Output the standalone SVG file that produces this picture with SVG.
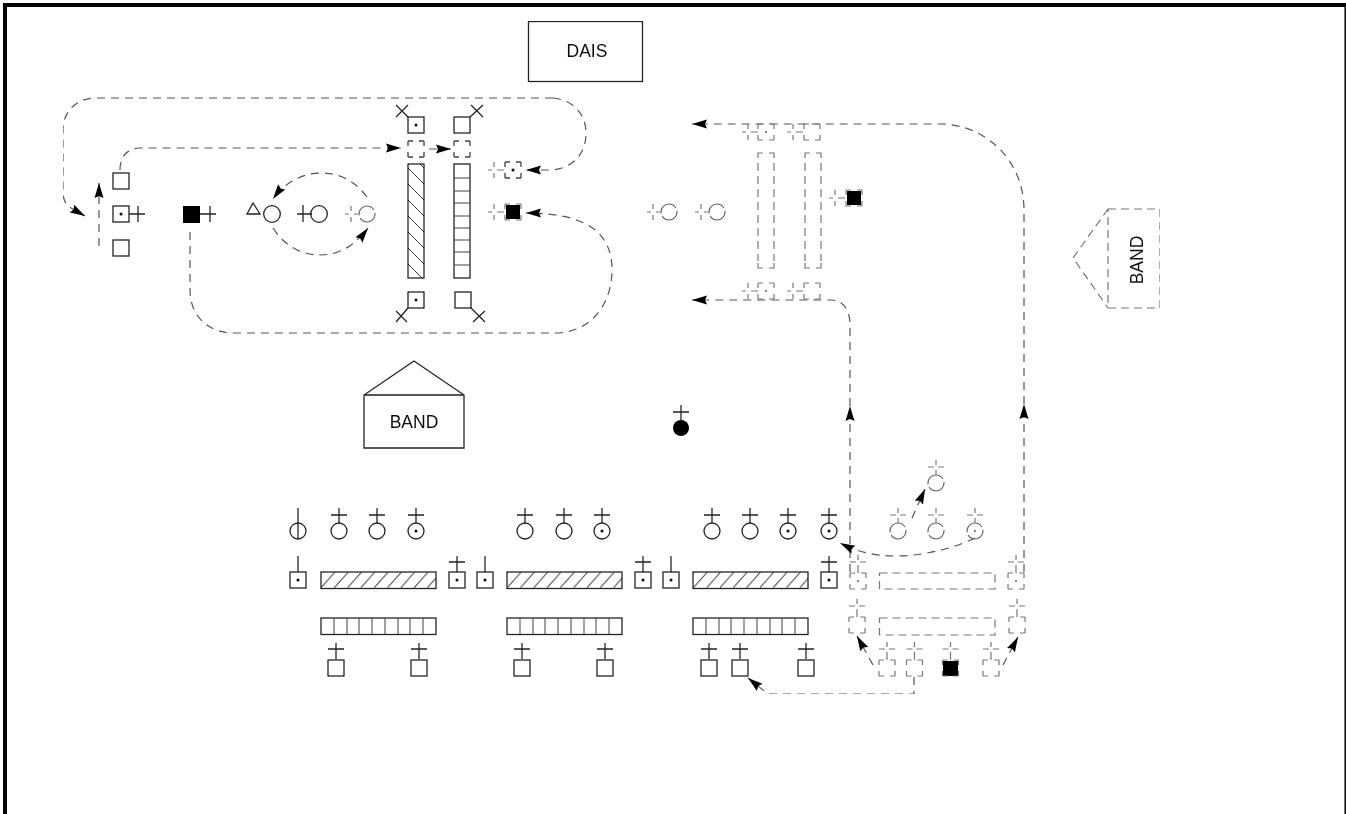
<svg xmlns="http://www.w3.org/2000/svg" width="1346" height="814" viewBox="0 0 1346 814">
<style>
.s{fill:none;stroke:#222;stroke-width:1.3}
.d{fill:none;stroke:#555;stroke-width:1.2;stroke-dasharray:8 6}
.q{fill:none;stroke:#444;stroke-width:1.3;stroke-dasharray:5 6 5 0}
.g{fill:none;stroke:#777;stroke-width:1.2}
.gs{fill:none;stroke:#777;stroke-width:1.2;stroke-dasharray:5 6 5 0}
.gd{fill:none;stroke:#777;stroke-width:1.2;stroke-dasharray:8 5}
.gc{fill:none;stroke:#666;stroke-width:1.2;stroke-dasharray:22.1 3;stroke-dashoffset:1.5}
.l{stroke:#444;stroke-width:1;fill:none}
.k{fill:#000}
.t{font-family:"Liberation Sans",Arial,sans-serif;font-size:17.5px;fill:#111;text-anchor:middle}
</style>
<defs>
<filter id="soft" x="0" y="0" width="1" height="1" filterUnits="objectBoundingBox"><feGaussianBlur stdDeviation="0.4"/></filter>
<marker id="a" markerUnits="userSpaceOnUse" markerWidth="16" markerHeight="10" refX="15" refY="5" orient="auto"><path d="M15 5 0 .5 2 5 0 9.500Z" fill="#000"/></marker>
<rect id="sq" x="-8" y="-8" width="16" height="16" class="s"/>
<circle id="dot" r="1.500" fill="#111"/>
<circle id="gdot" r="1.100" fill="#666"/>
<path id="plusC" class="s" d="M0-8V-23M-8-16H8"/>
<path id="plusS" class="s" d="M0-8V-24M-8-18H8"/>
<path id="lineT" class="s" d="M0-8V-24"/>
<circle id="c" r="8" class="s"/>
<rect id="dsq" x="-8" y="-8" width="16" height="16" class="gs"/>
<circle id="dc" r="8" class="gc"/>
<path id="dplusC" class="g" d="M0-23V-18M0-13V-8M-8-16H-2M2-16H8"/>
<path id="dplusS" class="g" d="M0-26V-21M0-16V-8M-8-19H-2M2-19H8"/>
<path id="dphS" class="g" d="M-25 0H-21M-16 0H-9M-19-8V-3M-19 3V8"/>
<path id="dphC" class="g" d="M-22 0H-18M-13 0H-9M-16-8V-3M-16 3V8"/>
<g id="tall"><path class="g" d="M0 5V0H5M11 0H16V5M0 110V115H5M11 115H16V110"/><path class="gd" d="M0 10V108M16 10V108"/></g>
<pattern id="h1" width="16" height="16" patternUnits="userSpaceOnUse" patternTransform="translate(408 168)"><path d="M-2-2 18 18" stroke="#333" stroke-width="1"/></pattern>
<pattern id="h2" width="13.300" height="17" patternUnits="userSpaceOnUse" patternTransform="translate(321 572)"><path d="M-1 17 14 0M-14.300 17 .7 0" stroke="#444" stroke-width="1"/></pattern>
</defs>
<path id="frame" d="M5 814V5H1346" fill="none" stroke="#000" stroke-width="4"/>
<path id="frame-right" d="M1345.200 5V814" fill="none" stroke="#000" stroke-width="1.500"/>
<g id="drawing" filter="url(#soft)">
<g id="connectors">
<path class="d" d="M553 98H96C76 98 63 112 63 130V192C63 200 66 205 71 208L85 216" marker-end="url(#a)"/>
<path class="d" d="M99 246V183" marker-end="url(#a)"/>
<path class="d" d="M120 170C120 156 128 148 140 148H401" marker-end="url(#a)"/>
<path class="d" d="M429 149H451" marker-end="url(#a)"/>
<path class="d" d="M553 98C574 100 586 115 586 133C586 155 572 168 552 170H526" marker-end="url(#a)"/>
<path class="d" d="M190 232V290C190 316 208 333 234 333H555C590 333 612 305 612 270C612 235 590 213 526 213" marker-end="url(#a)"/>
<path class="d" d="M367 197C355 181 340 173 321 173C304 173 286 181 273 199" marker-end="url(#a)"/>
<path class="d" d="M273 228C285 247 303 255 320 255C340 255 355 245 368 228" marker-end="url(#a)"/>
<path class="d" d="M1024 404V210C1024 160 985 124 940 124H692" marker-end="url(#a)"/>
<path class="d" d="M850 406V325C850 312 845 301 832 300H692" marker-end="url(#a)"/>
<path class="d" d="M850 572V406" marker-end="url(#a)"/>
<path class="d" d="M1024 572V404" marker-end="url(#a)"/>
<path class="d" d="M975 538C950 550 920 556 895 556C875 556 858 552 840 543" marker-end="url(#a)"/>
<path class="d" d="M912 518 925 489" marker-end="url(#a)"/>
<path class="d" d="M914 677V694H768L748 678" marker-end="url(#a)"/>
<path class="d" d="M873 665 857 636" marker-end="url(#a)"/>
<path class="d" d="M1003 665 1018 637" marker-end="url(#a)"/>
</g>
<g id="dais"><rect x="528.500" y="21.500" width="114" height="60" class="s"/><text class="t" x="587" y="57">DAIS</text></g>
<g id="band-bottom"><path class="s" d="M364 448V395L414 361 464 395V448ZM364 395H464"/><text class="t" x="414" y="428">BAND</text></g>
<g id="band-right"><path class="gd" d="M1108 209H1160V308H1108ZM1108 209 1073 258 1108 308"/><text class="t" transform="translate(1143 260) rotate(-90)">BAND</text></g>
<g id="n-left-top"><use href="#sq" x="121" y="181"/></g>
<g id="n-left-mid"><use href="#sq" x="121" y="214"/><use href="#dot" x="121" y="214"/><path class="s" d="M129 214H145M138 206V222"/></g>
<g id="n-left-bot"><use href="#sq" x="121" y="248"/></g>
<g id="n-black"><rect x="183" y="206" width="17" height="17" class="k"/><path class="s" d="M200 214H216M210 206V222"/></g>
<g id="n-tri"><path class="s" d="M247 214H260L253 203Z"/><circle class="s" cx="272" cy="214" r="8.300"/></g>
<g id="n-circ"><path class="s" d="M297 214H312M303 205V222"/><circle class="s" cx="319" cy="214" r="8.300"/></g>
<g id="n-gcirc"><use href="#dphC" x="367" y="214"/><use href="#dc" x="367" y="214"/></g>
<g id="bar-hatch"><rect x="408" y="164" width="16" height="114" fill="url(#h1)" stroke="#222" stroke-width="1.300"/></g>
<g id="bar-cells"><rect x="454" y="164" width="16" height="114" class="s"/><path class="l" d="M454 178H470M454 191H470M454 203H470M454 216H470M454 228H470M454 240H470M454 252H470M454 265H470"/></g>
<g id="n-tl"><use href="#sq" x="416" y="125"/><use href="#dot" x="416" y="125"/><path class="s" d="M408 117 396 105M396 117 408 105"/></g>
<g id="n-tr"><use href="#sq" x="462" y="125"/><path class="s" d="M470 117 483 105M471 105 483 117"/></g>
<g id="n-dl"><rect x="408" y="141" width="16" height="16" class="q"/></g>
<g id="n-dr"><rect x="454" y="141" width="16" height="16" class="q"/></g>
<g id="n-bl"><use href="#sq" x="416" y="300"/><use href="#dot" x="416" y="300"/><path class="s" d="M408 308 396 322M396 311 407 322"/></g>
<g id="n-br"><use href="#sq" x="463" y="300"/><path class="s" d="M471 308 485 322M473 322 485 311"/></g>
<g id="n-g1"><rect x="505" y="162" width="16" height="16" class="q"/><use href="#dot" x="513" y="170"/><use href="#dphS" x="513" y="170"/></g>
<g id="n-g2"><rect x="506" y="205" width="14" height="14" class="k"/><rect x="505" y="204" width="16" height="16" class="gs"/><use href="#dphS" x="513" y="212"/></g>
<g id="g-c1"><use href="#dphC" x="669" y="212"/><use href="#dc" x="669" y="212"/></g>
<g id="g-c2"><use href="#dphC" x="717" y="212"/><use href="#dc" x="717" y="212"/></g>
<g id="g-s1"><use href="#dsq" x="766" y="132"/><use href="#gdot" x="766" y="132"/><use href="#dphS" x="767" y="132"/></g>
<g id="g-s2"><use href="#dsq" x="812" y="132"/><use href="#dphS" x="812" y="132"/></g>
<use id="g-bar1" href="#tall" x="758" y="153"/>
<use id="g-bar2" href="#tall" x="805" y="153"/>
<g id="g-s3"><use href="#dsq" x="766" y="291"/><use href="#gdot" x="766" y="291"/><use href="#dphS" x="767" y="291"/></g>
<g id="g-s4"><use href="#dsq" x="812" y="291"/><use href="#dphS" x="812" y="291"/></g>
<g id="g-s5"><rect x="847" y="191" width="14" height="14" class="k"/><use href="#dsq" x="854" y="198"/><use href="#dphS" x="854" y="198"/></g>
<g id="black-circle"><circle cx="681" cy="428" r="8" class="k"/><path class="s" d="M681 420V405M673 412H689"/></g>
<g id="c1"><circle class="s" cx="298" cy="531" r="8"/><path class="s" d="M298 508V539"/></g>
<g id="c2"><use href="#c" x="339" y="531"/><use href="#plusC" x="339" y="531"/></g>
<g id="c3"><use href="#c" x="377" y="531"/><use href="#plusC" x="377" y="531"/></g>
<g id="c4"><use href="#c" x="416" y="531"/><use href="#plusC" x="416" y="531"/><use href="#dot" x="416" y="531"/></g>
<g id="c5"><use href="#c" x="525" y="531"/><use href="#plusC" x="525" y="531"/></g>
<g id="c6"><use href="#c" x="564" y="531"/><use href="#plusC" x="564" y="531"/></g>
<g id="c7"><use href="#c" x="602" y="531"/><use href="#plusC" x="602" y="531"/><use href="#dot" x="602" y="531"/></g>
<g id="c8"><use href="#c" x="712" y="531"/><use href="#plusC" x="712" y="531"/></g>
<g id="c9"><use href="#c" x="750" y="531"/><use href="#plusC" x="750" y="531"/></g>
<g id="c10"><use href="#c" x="788" y="531"/><use href="#plusC" x="788" y="531"/><use href="#dot" x="788" y="531"/></g>
<g id="c11"><use href="#c" x="829" y="531"/><use href="#plusC" x="829" y="531"/><use href="#dot" x="829" y="531"/></g>
<g id="m1"><use href="#sq" x="298" y="580"/><use href="#dot" x="298" y="580"/><use href="#lineT" x="298" y="580"/></g>
<g id="m2"><use href="#sq" x="457" y="580"/><use href="#dot" x="457" y="580"/><use href="#plusS" x="457" y="580"/></g>
<g id="m3"><use href="#sq" x="485" y="580"/><use href="#dot" x="485" y="580"/><use href="#lineT" x="485" y="580"/></g>
<g id="m4"><use href="#sq" x="643" y="580"/><use href="#dot" x="643" y="580"/><use href="#plusS" x="643" y="580"/></g>
<g id="m5"><use href="#sq" x="671" y="580"/><use href="#dot" x="671" y="580"/><use href="#lineT" x="671" y="580"/></g>
<g id="m6"><use href="#sq" x="829" y="580"/><use href="#dot" x="829" y="580"/><use href="#plusS" x="829" y="580"/></g>
<g id="hb1"><rect x="321" y="572" width="115" height="16.500" fill="url(#h2)" stroke="#222" stroke-width="1.300"/></g>
<g id="hb2"><rect x="507" y="572" width="115" height="16.500" fill="url(#h2)" stroke="#222" stroke-width="1.300"/></g>
<g id="hb3"><rect x="693" y="572" width="115" height="16.500" fill="url(#h2)" stroke="#222" stroke-width="1.300"/></g>
<g id="cb1"><rect x="321" y="618" width="115" height="16.500" class="s"/><path class="l" d="M334 618V634M347 618V634M359 618V634M372 618V634M385 618V634M398 618V634M410 618V634M423 618V634"/></g>
<g id="cb2"><rect x="507" y="618" width="115" height="16.500" class="s"/><path class="l" d="M520 618V634M533 618V634M545 618V634M558 618V634M571 618V634M584 618V634M596 618V634M609 618V634"/></g>
<g id="cb3"><rect x="693" y="618" width="115" height="16.500" class="s"/><path class="l" d="M706 618V634M719 618V634M731 618V634M744 618V634M757 618V634M770 618V634M782 618V634M795 618V634"/></g>
<g id="b1"><use href="#sq" x="336" y="668"/><use href="#plusS" x="336" y="667"/></g>
<g id="b2"><use href="#sq" x="419" y="668"/><use href="#plusS" x="419" y="667"/></g>
<g id="b3"><use href="#sq" x="522" y="668"/><use href="#plusS" x="522" y="667"/></g>
<g id="b4"><use href="#sq" x="605" y="668"/><use href="#plusS" x="605" y="667"/></g>
<g id="b5"><use href="#sq" x="709" y="668"/><use href="#plusS" x="709" y="667"/></g>
<g id="b6"><use href="#sq" x="740" y="668"/><use href="#plusS" x="740" y="667"/></g>
<g id="b7"><use href="#sq" x="806" y="668"/><use href="#plusS" x="806" y="667"/></g>
<g id="g-c3"><use href="#dc" x="936" y="483"/><use href="#dplusC" x="936" y="483"/></g>
<g id="g-c4"><use href="#dc" x="898" y="531"/><use href="#dplusC" x="898" y="531"/></g>
<g id="g-c5"><use href="#dc" x="936" y="531"/><use href="#dplusC" x="936" y="531"/></g>
<g id="g-c6"><use href="#dc" x="975" y="531"/><use href="#dplusC" x="975" y="531"/><use href="#gdot" x="975" y="531"/></g>
<g id="g-m1"><use href="#dsq" x="858" y="581"/><use href="#dplusS" x="858" y="581"/><use href="#gdot" x="858" y="581"/></g>
<g id="g-m2"><use href="#dsq" x="1016" y="581"/><use href="#dplusS" x="1016" y="581"/><use href="#gdot" x="1016" y="581"/></g>
<g id="g-m3"><use href="#dsq" x="857" y="625"/><use href="#dplusS" x="857" y="625"/></g>
<g id="g-m4"><use href="#dsq" x="1017" y="625"/><use href="#dplusS" x="1017" y="625"/></g>
<g id="g-hb"><rect x="879.500" y="573" width="115.500" height="16" class="gd"/></g>
<g id="g-cb"><rect x="879.500" y="618" width="115.500" height="17" class="gd"/></g>
<g id="g-b1"><use href="#dsq" x="887" y="668"/><use href="#dplusS" x="887" y="668"/></g>
<g id="g-b2"><use href="#dsq" x="914.500" y="668"/><use href="#dplusS" x="914.500" y="668"/></g>
<g id="g-b3"><rect x="943" y="661" width="15" height="15" class="k"/><use href="#dsq" x="950.500" y="668"/><use href="#dplusS" x="950.500" y="668"/></g>
<g id="g-b4"><use href="#dsq" x="991" y="668"/><use href="#dplusS" x="991" y="668"/></g>
</g>
</svg>
